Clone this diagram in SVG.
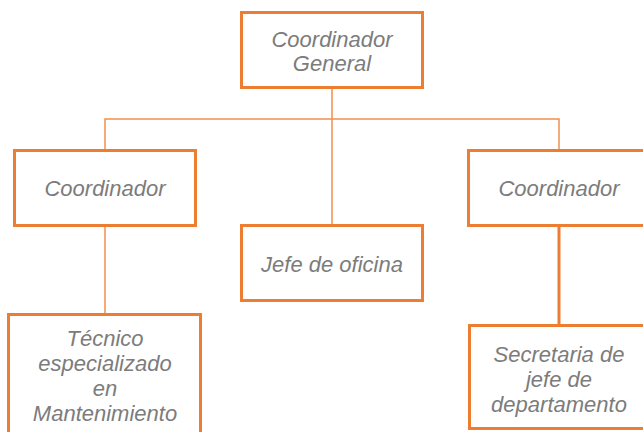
<svg xmlns="http://www.w3.org/2000/svg" width="643" height="432" viewBox="0 0 643 432">
<style>
.box{fill:#fff;stroke:#ED7D31;stroke-width:3}
.t{font-family:"Liberation Sans",Arial,sans-serif;font-style:italic;font-size:22px;fill:#7c7c7c;text-anchor:middle}
.thin{stroke:#F0904F;stroke-width:1.5;fill:none}
.thick{stroke:#ED7D31;stroke-width:3;fill:none}
</style>
<rect width="643" height="432" fill="#fff"/>
<g id="connectors">
<path class="thin" d="M332 88V225M105 226V119H559V150M105 226V314"/>
<path class="thick" d="M559 226V325"/>
</g>
<g id="n1"><rect class="box" x="241.5" y="12.5" width="181" height="75"/><text class="t" x="332" y="47">Coordinador</text><text class="t" x="332" y="71">General</text></g>
<g id="n2"><rect class="box" x="14.5" y="150.5" width="181" height="75"/><text class="t" x="105" y="196">Coordinador</text></g>
<g id="n3"><rect class="box" x="241.5" y="225.5" width="181" height="75"/><text class="t" x="332" y="272">Jefe de oficina</text></g>
<g id="n4"><rect class="box" x="468.5" y="150.5" width="182" height="75"/><text class="t" x="559" y="196">Coordinador</text></g>
<g id="n5"><rect class="box" x="8.5" y="314.5" width="192" height="130"/><text class="t" x="105" y="346">Técnico</text><text class="t" x="105" y="371">especializado</text><text class="t" x="105" y="396">en</text><text class="t" x="105" y="421">Mantenimiento</text></g>
<g id="n6"><rect class="box" x="469.5" y="325.5" width="182" height="103"/><text class="t" x="559" y="362">Secretaria de</text><text class="t" x="559" y="387">jefe de</text><text class="t" x="559" y="412">departamento</text></g>
</svg>
